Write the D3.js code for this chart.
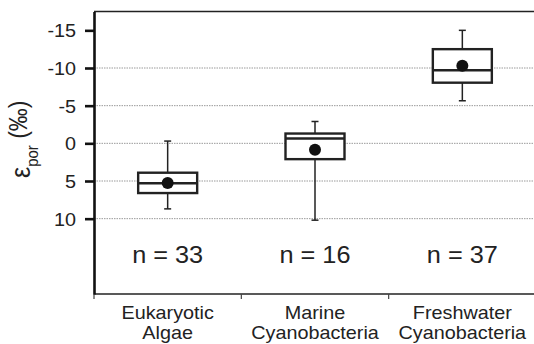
<!DOCTYPE html>
<html>
<head>
<meta charset="utf-8">
<script src="https://cdn.jsdelivr.net/npm/d3@7"></script>
<style>
  body { margin: 0; background: #fff; }
  svg { display: block; font-family: "Liberation Sans", Arial, sans-serif; }
</style>
</head>
<body>
<svg id="chart" width="534" height="344"></svg>
<script>
// data (per-mil, axis is reversed: negative up)
var categories = ["Eukaryotic Algae", "Marine Cyanobacteria", "Freshwater Cyanobacteria"];
var categoryLines = [["Eukaryotic", "Algae"], ["Marine", "Cyanobacteria"], ["Freshwater", "Cyanobacteria"]];
var whiskerTop = [-0.3, -2.9, -15.0];
var boxTop = [3.9, -1.3, -12.5];
var medians = [5.3, -0.65, -9.7];
var boxBottom = [6.6, 2.1, -8.05];
var whiskerBottom = [8.7, 10.2, -5.65];
var means = [5.25, 0.85, -10.3];
var counts = [33, 16, 37];
var yTicks = [-15, -10, -5, 0, 5, 10];
var gridTicks = [-10, -5, 0, 5, 10];

// plot frame (note: "top" is reserved on window, so plotTop)
var W = 534, H = 344;
var plotLeft = 94, plotTop = 11.5, plotBottom = 294;
var sx = 1.1; // the source figure is a bit wider than tall

var svg = d3.select("#chart");

var y = d3.scaleLinear().domain([-17.5, 20]).range([plotTop, plotBottom]);
var x = d3.scaleBand().domain(categories).range([plotLeft, 536]).padding(0);

// grid
svg.append("g").selectAll("line")
    .data(gridTicks)
    .enter()
    .append("line")
    .attr("x1", plotLeft).attr("x2", W)
    .attr("y1", d => y(d)).attr("y2", d => y(d))
    .attr("stroke", "#9a9a9a")
    .attr("stroke-width", 1)
    .attr("stroke-dasharray", "1.5,1");

// top frame line
svg.append("line")
    .attr("x1", plotLeft).attr("x2", W)
    .attr("y1", plotTop).attr("y2", plotTop)
    .attr("stroke", "#222").attr("stroke-width", 1.6);

// x axis line + boundary ticks
svg.append("line")
    .attr("x1", plotLeft).attr("x2", W)
    .attr("y1", plotBottom).attr("y2", plotBottom)
    .attr("stroke", "#222").attr("stroke-width", 1.6);
svg.append("g").selectAll("line")
    .data(categories)
    .enter()
    .append("line")
    .attr("x1", d => x(d)).attr("x2", d => x(d))
    .attr("y1", plotBottom).attr("y2", plotBottom + 5)
    .attr("stroke", "#444").attr("stroke-width", 1.2);

// y axis
var yAxis = svg.append("g")
    .attr("transform", "translate(" + plotLeft + ",0)")
    .call(d3.axisLeft(y).tickValues(yTicks).tickSize(9).tickSizeOuter(0).tickPadding(9)
        .tickFormat(d => d < 0 ? "-" + Math.abs(d) : String(d)));
yAxis.select(".domain").attr("stroke", "#111").attr("stroke-width", 2.6);
yAxis.selectAll(".tick line").attr("stroke", "#111").attr("stroke-width", 2.6);
yAxis.selectAll(".tick text")
    .attr("x", -18 / sx)
    .attr("dy", "0.36em")
    .attr("transform", "scale(" + sx + ",1)")
    .attr("font-size", 18)
    .attr("font-family", "Liberation Sans, Arial, sans-serif")
    .attr("fill", "#222");

// y label  ε_por (‰)
var ylab = svg.append("text")
    .attr("transform", "translate(30,178) scale(" + sx + ",1) rotate(-90)")
    .attr("fill", "#222");
ylab.append("tspan").attr("font-size", 25).text("ε");
ylab.append("tspan").attr("font-size", 15).attr("dy", 7).text("por");
ylab.append("tspan").attr("font-size", 23).attr("dy", -10).text(" (‰)");

// boxes
var bw = 59;
var idx = d3.range(categories.length);
var boxes = svg.append("g").selectAll("g")
    .data(idx)
    .enter()
    .append("g")
    .attr("transform", i => "translate(" + (x(categories[i]) + x.bandwidth() / 2) + ",0)");

boxes.append("line")
    .attr("x1", 0).attr("x2", 0)
    .attr("y1", i => y(whiskerTop[i])).attr("y2", i => y(whiskerBottom[i]))
    .attr("stroke", "#222").attr("stroke-width", 1.5);
boxes.append("line")
    .attr("x1", -3.5).attr("x2", 3.5)
    .attr("y1", i => y(whiskerTop[i])).attr("y2", i => y(whiskerTop[i]))
    .attr("stroke", "#222").attr("stroke-width", 1.5);
boxes.append("line")
    .attr("x1", -3.5).attr("x2", 3.5)
    .attr("y1", i => y(whiskerBottom[i])).attr("y2", i => y(whiskerBottom[i]))
    .attr("stroke", "#222").attr("stroke-width", 1.5);
boxes.append("rect")
    .attr("x", -bw / 2).attr("width", bw)
    .attr("y", i => y(boxTop[i]))
    .attr("height", i => y(boxBottom[i]) - y(boxTop[i]))
    .attr("fill", "#fff")
    .attr("stroke", "#222").attr("stroke-width", 2.4);
boxes.append("line")
    .attr("x1", -bw / 2).attr("x2", bw / 2)
    .attr("y1", i => y(medians[i])).attr("y2", i => y(medians[i]))
    .attr("stroke", "#222").attr("stroke-width", 2.4);
boxes.append("circle")
    .attr("cx", 0)
    .attr("cy", i => y(means[i]))
    .attr("r", 6)
    .attr("fill", "#111");

// n labels
svg.append("g").selectAll("text")
    .data(idx)
    .enter()
    .append("text")
    .attr("transform", i => "translate(" + (x(categories[i]) + x.bandwidth() / 2) + ",263) scale(" + sx + ",1)")
    .attr("text-anchor", "middle")
    .attr("font-size", 23)
    .attr("fill", "#222")
    .text(i => "n = " + counts[i]);

// category labels
var cl = svg.append("g").selectAll("text")
    .data(idx)
    .enter()
    .append("text")
    .attr("transform", i => "translate(" + (x(categories[i]) + x.bandwidth() / 2) + ",319) scale(" + sx + ",1)")
    .attr("text-anchor", "middle")
    .attr("font-size", 18)
    .attr("fill", "#222");
cl.append("tspan").attr("x", 0).text(i => categoryLines[i][0]);
cl.append("tspan").attr("x", 0).attr("dy", 20.5).text(i => categoryLines[i][1]);
</script>
</body>
</html>
